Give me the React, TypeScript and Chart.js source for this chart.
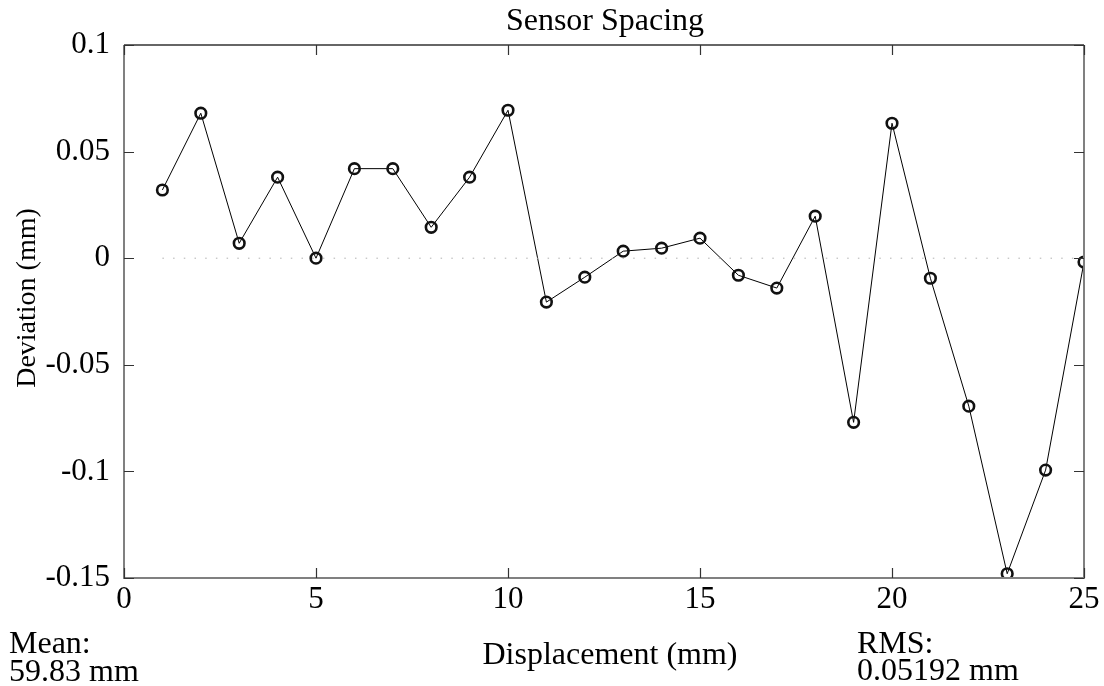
import React, { useEffect, useRef } from "react";
import { Chart, registerables } from "chart.js";

Chart.register(...registerables);

const xValues = [1, 2, 3, 4, 5, 6, 7, 8, 9, 10, 11, 12, 13, 14, 15, 16, 17, 18, 19, 20, 21, 22, 23, 24, 25];
const deviation = [
  0.032, 0.068, 0.007, 0.038, 0.0, 0.042, 0.042, 0.0145, 0.038, 0.0694,
  -0.0206, -0.0089, 0.0033, 0.0047, 0.0094, -0.008, -0.014, 0.0197, -0.077, 0.0633,
  -0.0094, -0.0694, -0.148, -0.0994, -0.0018,
];
const zeroLineX = [1, 25];
const zeroLineY = [0, 0];
const xTicks = [0, 5, 10, 15, 20, 25];
const yTicks = [-0.15, -0.1, -0.05, 0, 0.05, 0.1];

const titleText = "Sensor Spacing";
const xTitle = "Displacement (mm)";
const yTitle = "Deviation (mm)";
const meanLines = ["Mean:", "59.83 mm"];
const rmsLines = ["RMS:", "0.05192 mm"];

const FONT = "'Liberation Serif', 'Times New Roman', serif";
const FS_TICK = 31;
const FS_TEXT = 32;
const FS_YTITLE = 28;

const fmt = (v: number) => String(Number(v.toFixed(4)));

export default function App() {
  const ref = useRef<HTMLCanvasElement | null>(null);

  useEffect(() => {
    document.body.style.margin = "0";
    const canvas = ref.current!;

    const framePlugin = {
      id: "frame",
      afterDatasetsDraw(chart: any) {
        const ctx = chart.ctx;
        const { left, right, top, bottom } = chart.chartArea;
        const xs = chart.scales.x;
        const ys = chart.scales.y;
        ctx.save();
        ctx.lineWidth = 2;
        ctx.strokeStyle = "#808080";
        ctx.beginPath();
        ctx.moveTo(left, top);
        ctx.lineTo(left, bottom);
        ctx.lineTo(right, bottom);
        ctx.lineTo(right, top);
        ctx.stroke();
        ctx.lineWidth = 1.5;
        ctx.strokeStyle = "#333";
        ctx.beginPath();
        ctx.moveTo(left, top);
        ctx.lineTo(right, top);
        ctx.stroke();
        ctx.lineWidth = 1.2;
        ctx.strokeStyle = "#333";
        const tl = 10;
        ctx.beginPath();
        xTicks.forEach((t) => {
          const px = Math.round(xs.getPixelForValue(t)) + 0.5;
          ctx.moveTo(px, bottom);
          ctx.lineTo(px, bottom - tl);
          ctx.moveTo(px, top);
          ctx.lineTo(px, top + tl);
        });
        yTicks.forEach((t) => {
          const py = Math.round(ys.getPixelForValue(t)) + 0.5;
          ctx.moveTo(left, py);
          ctx.lineTo(left + tl, py);
          ctx.moveTo(right, py);
          ctx.lineTo(right - tl, py);
        });
        ctx.stroke();
        ctx.restore();
      },
      afterDraw(chart: any) {
        const ctx = chart.ctx;
        ctx.save();
        ctx.fillStyle = "#000";
        ctx.font = `${FS_TEXT}px ${FONT}`;
        ctx.textBaseline = "alphabetic";
        ctx.textAlign = "center";
        ctx.fillText(titleText, 605, 30);
        ctx.fillText(xTitle, 610, 664);
        ctx.textAlign = "left";
        ctx.fillText(meanLines[0], 9, 653);
        ctx.fillText(meanLines[1], 9, 681);
        ctx.fillText(rmsLines[0], 857, 653);
        ctx.fillText(rmsLines[1], 857, 680);
        ctx.font = `${FS_YTITLE}px ${FONT}`;
        ctx.translate(28, 298);
        ctx.rotate(-Math.PI / 2);
        ctx.textAlign = "center";
        ctx.textBaseline = "middle";
        ctx.fillText(yTitle, 0, 0);
        ctx.restore();
      },
    };

    const chart = new Chart(canvas, {
      type: "line",
      data: {
        datasets: [
          {
            data: zeroLineX.map((x, i) => ({ x, y: zeroLineY[i] })),
            borderColor: "#b0b0b0",
            borderWidth: 1,
            borderDash: [1.5, 9.2],
            pointRadius: 0,
            fill: false,
          },
          {
            data: xValues.map((x, i) => ({ x, y: deviation[i] })),
            borderColor: "#000",
            borderWidth: 1,
            pointStyle: "circle",
            pointRadius: 5.3,
            pointBorderWidth: 2.6,
            pointBorderColor: "#111",
            pointBackgroundColor: "rgba(0,0,0,0)",
            fill: false,
            tension: 0,
          },
        ],
      },
      options: {
        responsive: false,
        animation: false,
        devicePixelRatio: 1,
        layout: { padding: { top: 45, right: 20, left: 0, bottom: 0 } },
        plugins: { legend: { display: false }, tooltip: { enabled: false }, title: { display: false } },
        scales: {
          x: {
            type: "linear",
            min: 0,
            max: 25,
            grid: { display: false, drawTicks: false },
            border: { display: false },
            afterBuildTicks: (s: any) => {
              s.ticks = xTicks.map((v) => ({ value: v }));
            },
            afterFit: (s: any) => {
              s.height = 108;
            },
            ticks: {
              color: "#000",
              font: { family: FONT, size: FS_TICK },
              padding: 3,
              maxRotation: 0,
              autoSkip: false,
              callback: (v: any) => fmt(Number(v)),
            },
          },
          y: {
            type: "linear",
            min: -0.15,
            max: 0.1,
            grid: { display: false, drawTicks: false },
            border: { display: false },
            afterBuildTicks: (s: any) => {
              s.ticks = yTicks.map((v) => ({ value: v }));
            },
            afterFit: (s: any) => {
              s.width = 124;
            },
            ticks: {
              color: "#000",
              font: { family: FONT, size: FS_TICK },
              padding: 14,
              autoSkip: false,
              callback: (v: any) => fmt(Number(v)),
            },
          },
        },
      },
      plugins: [framePlugin],
    } as any);

    return () => chart.destroy();
  }, []);

  return (
    <div style={{ position: "absolute", left: 0, top: 0, width: 1104, height: 686, background: "#fff" }}>
      <canvas ref={ref} width={1104} height={686} style={{ display: "block" }} />
    </div>
  );
}
